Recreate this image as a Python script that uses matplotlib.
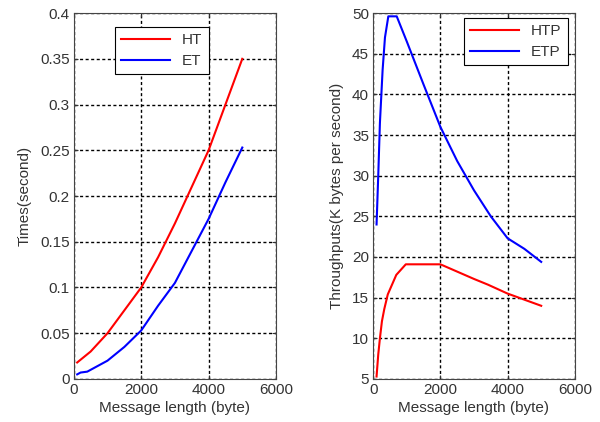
import matplotlib
matplotlib.use("Agg")
import matplotlib.pyplot as plt

plt.rcParams['font.family'] = ['Liberation Sans', 'DejaVu Sans']

# Left panel data
len_t = [100, 200, 300, 500, 1000, 1500, 2000, 2500, 3000, 3500, 4000, 4500, 5000]
ht = [0.018, 0.021, 0.024, 0.030, 0.050, 0.075, 0.100, 0.133, 0.170, 0.210, 0.250, 0.300, 0.350]
len_e = [100, 200, 400, 600, 1000, 1500, 2000, 2500, 3000, 3500, 4000, 4500, 5000]
et = [0.005, 0.007, 0.008, 0.012, 0.020, 0.035, 0.053, 0.080, 0.105, 0.140, 0.175, 0.215, 0.253]

# Right panel data
len_htp = [100, 150, 200, 260, 330, 434, 687, 970, 2000, 3000, 3414, 4000, 5000]
htp = [5.3, 8.0, 10.0, 12.1, 13.6, 15.4, 17.8, 19.1, 19.1, 17.3, 16.6, 15.5, 14.0]
len_etp = [100, 150, 200, 280, 350, 450, 700, 1000, 1500, 2000, 2500, 3000, 3500, 4000, 4500, 5000]
etp = [24.0, 30.0, 36.5, 43.0, 47.0, 49.6, 49.6, 46.5, 41.2, 36.0, 31.8, 28.2, 25.0, 22.3, 21.0, 19.4]

fig = plt.figure(figsize=(6.0, 4.22), dpi=100)
ax1 = fig.add_axes([0.123, 0.102, 0.337, 0.867])
ax2 = fig.add_axes([0.622, 0.102, 0.336, 0.867])

tc = '#333333'
fs = 11
for ax in (ax1, ax2):
    ax.grid(True, color='black', linestyle=(0, (2.2, 1.8)), linewidth=1.0)
    ax.set_xlim(0, 6000)
    ax.set_xticks([0, 2000, 4000, 6000])
    ax.tick_params(direction='in', length=3, labelsize=fs, colors=tc, top=True, right=True, pad=3)
    for s in ax.spines.values():
        s.set_color('#444444')
    ax.set_xlabel('Message length (byte)', fontsize=fs, color=tc, labelpad=3)

ax1.plot(len_t, ht, color='red', lw=1.5, label='HT')
ax1.plot(len_e, et, color='blue', lw=1.5, label='ET')
ax1.set_ylim(0, 0.4)
ax1.set_yticks([0, 0.05, 0.1, 0.15, 0.2, 0.25, 0.3, 0.35, 0.4])
ax1.set_yticklabels(['0', '0.05', '0.1', '0.15', '0.2', '0.25', '0.3', '0.35', '0.4'])
ax1.set_ylabel('Times(second)', fontsize=fs, color=tc, labelpad=6)
leg1 = ax1.legend(loc='upper left', bbox_to_anchor=(0.203, 0.962), fontsize=fs, fancybox=False,
                  edgecolor='black', framealpha=1, handlelength=3.2, borderpad=0.4, labelspacing=0.45,
                  borderaxespad=0)
leg1.get_frame().set_linewidth(0.8)

ax2.plot(len_htp, htp, color='red', lw=1.5, label='HTP')
ax2.plot(len_etp, etp, color='blue', lw=1.5, label='ETP')
ax2.set_ylim(5, 50)
ax2.set_yticks(range(5, 51, 5))
ax2.set_ylabel('Throughputs(K bytes per second)', fontsize=fs, color=tc, labelpad=6)
leg2 = ax2.legend(loc='upper right', bbox_to_anchor=(0.965, 0.986), fontsize=fs, fancybox=False,
                  edgecolor='black', framealpha=1, handlelength=3.2, borderpad=0.4, labelspacing=0.45,
                  borderaxespad=0)
leg2.get_frame().set_linewidth(0.8)

for leg in (leg1, leg2):
    for t in leg.get_texts():
        t.set_color(tc)

fig.savefig('out.png', dpi=100)
